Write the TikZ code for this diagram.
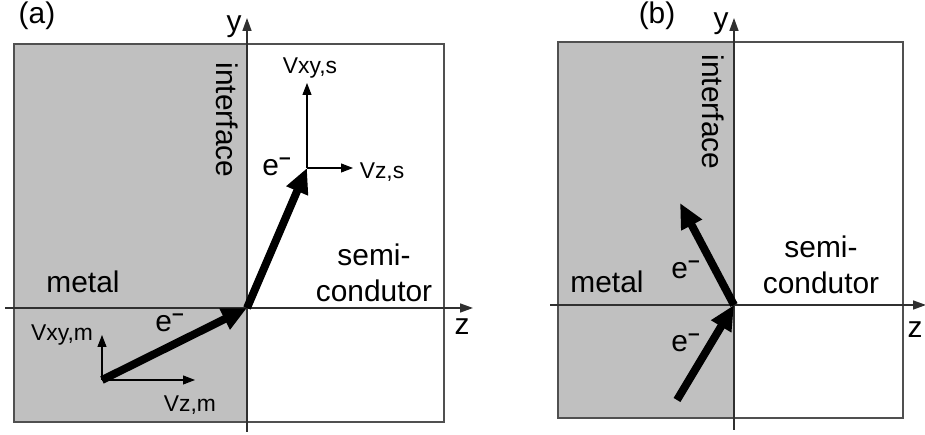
\documentclass[tikz,border=0pt]{standalone}
\usepackage{fontspec}
\setsansfont{Liberation Sans}
\usepackage{tikz}
\usetikzlibrary{positioning,arrows.meta}
\definecolor{metalgray}{HTML}{C0C0C0}
\definecolor{framegray}{HTML}{505050}
\definecolor{axisgray}{HTML}{303030}
\newcommand{\elec}{e\textsuperscript{\textbf{--}}}

\begin{document}
\begin{tikzpicture}[
  font=\sffamily\fontsize{17}{20.5}\selectfont,
  region/.style={draw=framegray, line width=1.3pt},
  axis/.style={-{Triangle[length=2.6mm,width=1.8mm]}, line width=0.9pt, color=axisgray},
  flow/.style={-{Triangle[length=5mm,width=4.4mm]}, line width=4.5pt},
  comp/.style={-{Triangle[length=2.4mm,width=1.8mm]}, line width=0.6pt},
  lbl/.style={inner sep=0pt},
  small/.style={font=\sffamily\fontsize{13}{15}\selectfont, inner sep=0pt},
]
  \useasboundingbox (0,0) rectangle (18.5,8.7);

  % (a) electron crossing into the semiconductor
  \fill[metalgray] (0.28,0.26) rectangle (4.94,7.82);
  \draw[region] (0.28,0.26) rectangle (8.88,7.82);
  \coordinate (Oa) at (4.94,2.54);
  \coordinate (ya0) at (4.94,0.06);  \coordinate (ya1) at (4.94,8.34);
  \coordinate (za0) at (0.1,2.54);   \coordinate (za1) at (9.46,2.54);
  \draw[axis] (ya0) -- (ya1);
  \draw[axis] (za0) -- (za1);
  \node[lbl] (laba) at (0.74,8.38) {(a)};
  \node[lbl] (ya) at (4.68,8.16) {y};
  \node[lbl] (za) at (9.24,2.16) {z};
  \node[lbl, rotate=-90] (ifa) at (4.54,6.3) {interface};
  \node[lbl] (meta) at (1.66,3.06) {metal};
  \node[lbl, align=center] (sca) at (7.48,3.25) {semi-\\condutor};
  \coordinate (ina) at (2.04,1.1);
  \coordinate (outa) at (6.14,5.34);
  \draw[flow] (ina) -- (Oa);
  \draw[flow] (Oa) -- (outa);
  \node[lbl] (ea1) at (3.4,2.24) {\elec};
  \node[lbl] (ea2) at (5.54,5.36) {\elec};
  % velocity components
  \coordinate (vxym) at (2.04,2.0);  \coordinate (vzm) at (3.9,1.1);
  \coordinate (vxys) at (6.14,7.04); \coordinate (vzs) at (7.06,5.34);
  \draw[comp] (ina) -- (vxym);
  \draw[comp] (ina) -- (vzm);
  \draw[comp] (outa) -- (vxys);
  \draw[comp] (outa) -- (vzs);
  \node[small] (tvxym) at (1.24,2.0) {Vxy,m};
  \node[small] (tvzm) at (3.8,0.6) {Vz,m};
  \node[small] (tvxys) at (6.2,7.34) {Vxy,s};
  \node[small] (tvzs) at (7.64,5.26) {Vz,s};

  % (b) electron reflected back into the metal
  \fill[metalgray] (11.16,0.34) rectangle (14.68,7.86);
  \draw[region] (11.16,0.34) rectangle (18.06,7.86);
  \coordinate (Ob) at (14.68,2.6);
  \coordinate (yb0) at (14.68,0.1);  \coordinate (yb1) at (14.68,8.34);
  \coordinate (zb0) at (11.0,2.6);   \coordinate (zb1) at (18.52,2.6);
  \draw[axis] (yb0) -- (yb1);
  \draw[axis] (zb0) -- (zb1);
  \node[lbl] (labb) at (13.14,8.38) {(b)};
  \node[lbl] (yb) at (14.42,8.22) {y};
  \node[lbl] (zb) at (18.3,2.1) {z};
  \node[lbl, rotate=-90] (ifb) at (14.26,6.46) {interface};
  \node[lbl] (metb) at (12.14,3.06) {metal};
  \node[lbl, align=center] (scb) at (16.42,3.4) {semi-\\condutor};
  \coordinate (inb) at (13.54,0.7);
  \coordinate (outb) at (13.6,4.64);
  \draw[flow] (inb) -- (Ob);
  \draw[flow] (Ob) -- (outb);
  \node[lbl] (eb1) at (13.72,3.3) {\elec};
  \node[lbl] (eb2) at (13.72,1.84) {\elec};
\end{tikzpicture}
\end{document}
